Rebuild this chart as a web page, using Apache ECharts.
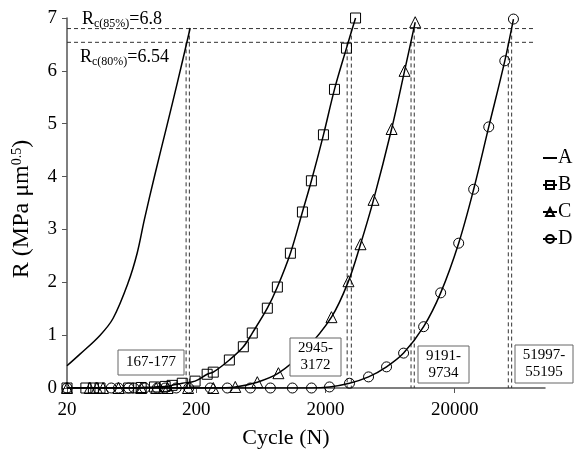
<!DOCTYPE html>
<html>
<head>
<meta charset="utf-8">
<script src="https://cdn.jsdelivr.net/npm/echarts@6/dist/echarts.min.js"></script>
<style>html,body{margin:0;padding:0;background:#fff}#c{width:580px;height:451px}</style>
</head>
<body>
<div id="c"></div>
<script>
// ---- data ----
const tickLabels = [20, 200, 2000, 20000];
const cyclesA = [20, 25.2, 36.1, 45.5, 59.4, 69.8, 79.3, 95.6, 118.3, 144, 179.6];
const rA      = [0.42, 0.64, 1.0, 1.32, 1.99, 2.55, 3.18, 4.03, 4.95, 5.81, 6.81];
const cyclesB = [20, 28, 32, 36, 60, 75, 95, 115, 130, 156, 196, 243, 271, 361, 463, 543, 710, 849, 1071, 1327, 1557, 1930, 2349, 2909, 3420];
const rB      = [0, 0, 0, 0, 0, 0.01, 0.02, 0.03, 0.05, 0.09, 0.13, 0.26, 0.30, 0.53, 0.78, 1.04, 1.51, 1.91, 2.55, 3.33, 3.92, 4.79, 5.65, 6.43, 7.0];
const cyclesC = [20, 30, 34, 38, 50, 75, 98, 120, 173, 271, 401, 594, 865, 1350, 2226, 3014, 3736, 4710, 6500, 8190, 9900];
const rC      = [0, 0, 0, 0, 0, 0, 0, 0, 0, 0, 0.02, 0.11, 0.28, 0.68, 1.34, 2.02, 2.72, 3.56, 4.9, 6.0, 6.92];
const cyclesD = [20, 44, 50, 60, 66, 80, 100, 115, 140, 175, 257, 348, 525, 750, 1110, 1560, 2150, 3070, 4310, 5940, 8050, 11500, 15580, 21480, 28060, 36700, 48860, 57000];
const rD      = [0, 0, 0, 0, 0, 0, 0, 0, 0, 0, 0, 0, 0, 0, 0, 0, 0.02, 0.09, 0.21, 0.40, 0.66, 1.16, 1.80, 2.74, 3.76, 4.94, 6.19, 6.98];
const rc85 = 6.8;
const rc80 = 6.54;
const thresholdSpan = [20, 85000];
const intervalA = [167, 177];
const intervalB = [2945, 3172];
const intervalC = [9191, 9734];
const intervalD = [51997, 55195];

// ---- build ----
const lg = Math.log10;
const pts = (xs, ys) => xs.map((n, i) => [lg(n), ys[i]]);
const serif = '"Liberation Serif", "DejaVu Serif", serif';
const dash = {color: '#333', width: 1, type: [4, 3]};

function vLines(iv) {
  return [
    [[lg(iv[0]), rc80], [lg(iv[0]), 0]],
    [[lg(iv[1]), rc85], [lg(iv[1]), 0]]
  ];
}
const aux = [];
aux.push(thresholdSpan.map(n => [lg(n), rc85]));
aux.push(thresholdSpan.map(n => [lg(n), rc80]));
[intervalA, intervalB, intervalC, intervalD].forEach(iv => vLines(iv).forEach(d => aux.push(d)));

const mainStyle = (name, symbol, size, xs, ys) => ({
  name, type: 'line', data: pts(xs, ys), smooth: 0.35,
  symbol: symbol, symbolSize: size, showSymbol: true,
  lineStyle: {color: '#000', width: 1.5},
  itemStyle: {color: 'rgba(0,0,0,0)', borderColor: '#000', borderWidth: 1},
  z: 3, animation: false
});

const series = [
  mainStyle('A', 'circle', 0, cyclesA, rA),
  mainStyle('B', 'rect', 10, cyclesB, rB),
  mainStyle('C', 'triangle', 11, cyclesC, rC),
  mainStyle('D', 'circle', 10, cyclesD, rD)
];
series[0].showSymbol = false;
series[0].itemStyle = {color: 'rgba(0,0,0,0)', borderColor: 'rgba(0,0,0,0)', borderWidth: 0};
aux.forEach((d, i) => series.push({
  name: 'ref' + i, type: 'line', data: d, symbol: 'none', lineStyle: dash, z: 1, animation: false, silent: true
}));

function box(x, y, w, h, txt) {
  return [
    {type: 'rect', shape: {x, y, width: w, height: h}, style: {fill: '#fff', stroke: '#666', lineWidth: 1}, z: 100},
    {type: 'text', x: x + w / 2, y: y + h / 2, style: {text: txt, font: '15px ' + serif, fill: '#000', align: 'center', verticalAlign: 'middle', lineHeight: 17}, z: 101}
  ];
}

const chart = echarts.init(document.getElementById('c'));
chart.setOption({
  animation: false,
  backgroundColor: '#fff',
  grid: {left: 67, right: 35, top: 18, bottom: 63, containLabel: false, outerBoundsMode: 'none'},
  xAxis: {
    type: 'value', min: lg(20), max: lg(100000),
    name: 'Cycle (N)', nameLocation: 'middle', nameGap: 39,
    nameTextStyle: {fontFamily: serif, fontSize: 22, color: '#000', padding: [0, 40, 0, 0]},
    axisLine: {show: true, lineStyle: {color: '#555', width: 1.5}},
    axisTick: {show: true, customValues: tickLabels.map(lg), length: 5, lineStyle: {color: '#555'}},
    axisLabel: {customValues: tickLabels.map(lg), formatter: v => String(Math.round(Math.pow(10, v))), fontFamily: serif, fontSize: 19, color: '#000', margin: 13},
    splitLine: {show: false}
  },
  yAxis: {
    type: 'value', min: 0, max: 7, interval: 1,
    name: 'R (MPa μm{sup|0.5})', nameLocation: 'middle', nameGap: 33,
    nameTextStyle: {fontFamily: serif, fontSize: 24, color: '#000', padding: [0, 12, 0, 0], rich: {sup: {fontFamily: serif, fontSize: 14, verticalAlign: 'top', color: '#000'}}},
    axisLine: {show: true, lineStyle: {color: '#555', width: 1.5}},
    axisTick: {show: true, length: 5, lineStyle: {color: '#555'}},
    axisLabel: {fontFamily: serif, fontSize: 19, color: '#000', margin: 10},
    splitLine: {show: false}
  },
  legend: {
    data: ['A', 'B', 'C', 'D'], orient: 'vertical', left: 537, top: 143,
    itemWidth: 14, itemHeight: 10, itemGap: 7,
    textStyle: {fontFamily: serif, fontSize: 20, color: '#000', lineHeight: 20, padding: [0, 0, 0, -4]}
  },
  graphic: [
    {type: 'text', x: 82, y: 8, z: 100, style: {text: '{m|R}{s|c(85%)}{m|=6.8}', rich: {m: {font: '18px ' + serif, lineHeight: 22, fill: '#000'}, s: {font: '12px ' + serif, verticalAlign: 'bottom', fill: '#000'}}}},
    {type: 'text', x: 80, y: 46, z: 100, style: {text: '{m|R}{s|c(80%)}{m|=6.54}', rich: {m: {font: '18px ' + serif, lineHeight: 22, fill: '#000'}, s: {font: '12px ' + serif, verticalAlign: 'bottom', fill: '#000'}}}},
    ...box(118, 350, 66, 25, '167-177'),
    ...box(290, 338, 51, 38, '2945-\n3172'),
    ...box(418, 346, 51, 37, '9191-\n9734'),
    ...box(515, 345, 58, 38, '51997-\n55195')
  ],
  series
});
</script>
</body>
</html>
